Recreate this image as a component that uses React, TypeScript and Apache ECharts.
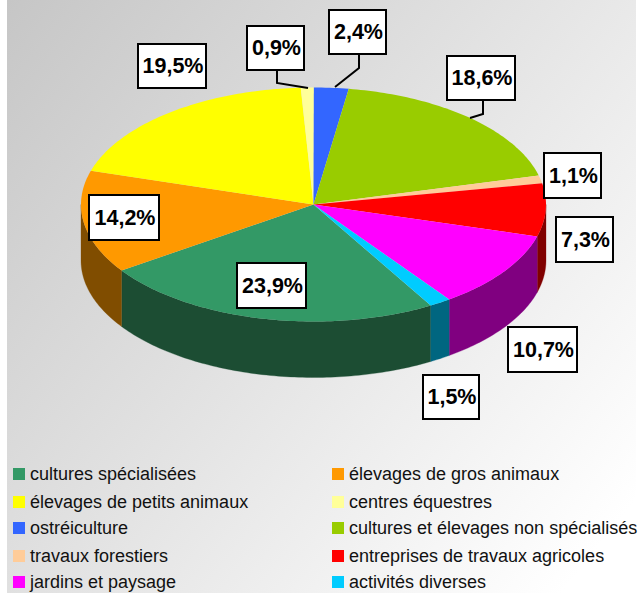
import React, { useEffect, useRef } from "react";
import * as echarts from "echarts";

const categories = [
  "cultures spécialisées",
  "élevages de gros animaux",
  "élevages de petits animaux",
  "centres équestres",
  "ostréiculture",
  "cultures et élevages non spécialisés",
  "travaux forestiers",
  "entreprises de travaux agricoles",
  "jardins et paysage",
  "activités diverses",
];
const values = [23.9, 14.2, 19.5, 0.9, 2.4, 18.6, 1.1, 7.3, 10.7, 1.5];
const colors = ["#339966", "#ff9900", "#ffff00", "#ffff99", "#3366ff", "#99cc00", "#ffcc99", "#ff0000", "#ff00ff", "#00ccff"];
const sideColors = ["#1c4d33", "#804d00", "#808000", "#808050", "#1a3380", "#4d6600", "#80664d", "#800000", "#800080", "#006680"];

// layout of the pie drawn as a tilted disc
const CX = 313.5, CY = 204.5, RX = 232.5, RY = 117, DEPTH = 56, START = 149.7;
// outer box of each label: x0, y0, x1, y1
const boxes = [
  [236, 262, 307, 309], [88, 194, 160, 241], [137, 43, 207, 89], [246, 25, 305, 71], [328, 9, 387, 55],
  [446, 55, 516, 101], [543, 152, 602, 199], [555, 216, 614, 263], [507, 326, 578, 373], [422, 374, 480, 420],
];
const leaders: Record<number, number[][]> = {
  3: [[277, 71], [277, 83], [308, 88]],
  4: [[359, 55], [359, 68], [335, 87]],
  5: [[483, 101], [483, 114], [470, 118]],
};
// legend anchor per item: swatch left, swatch top
const legendPos = [
  [13, 468], [332, 468], [13, 496], [332, 496], [13, 522], [332, 522], [13, 550], [332, 550], [13, 576], [332, 576],
];
const LEGEND_SHIFT = 3;

const total = values.reduce((a, b) => a + b, 0);
const pt = (deg: number, dz: number) => {
  const r = (deg * Math.PI) / 180;
  return [CX + RX * Math.sin(r), CY - RY * Math.cos(r) + dz];
};
const arc = (a0: number, a1: number, dz: number) => {
  const out: number[][] = [];
  const n = Math.max(2, Math.ceil(a1 - a0));
  for (let i = 0; i <= n; i++) out.push(pt(a0 + ((a1 - a0) * i) / n, dz));
  return out;
};

export default function App() {
  const ref = useRef<HTMLDivElement>(null);
  useEffect(() => {
    document.body.style.margin = "0";
    const chart = echarts.init(ref.current!, null, { renderer: "svg" });
    let acc = START;
    const spans = values.map((v) => {
      const a0 = acc;
      acc += (v / total) * 360;
      return [a0, acc];
    });
    const sliceSeries = categories.map((name, i) => ({
      type: "custom",
      name,
      coordinateSystem: "none",
      silent: true,
      z: 3,
      itemStyle: { color: colors[i] },
      data: [values[i]],
      renderItem: () => {
        const [a0, a1] = spans[i];
        const children: any[] = [];
        // the wall of the disc is visible only on its front half (90deg..270deg, and again one turn on)
        for (const shift of [0, 360]) {
          const s0 = Math.max(a0, 90 + shift);
          const s1 = Math.min(a1, 270 + shift);
          if (s1 > s0) {
            children.push({
              type: "polygon",
              z2: 1,
              shape: { points: [...arc(s0, s1, 0), ...arc(s0, s1, DEPTH).reverse()] },
              style: { fill: sideColors[i], stroke: sideColors[i], lineWidth: 0.3 },
            });
          }
        }
        children.push({
          type: "polygon",
          z2: 2,
          shape: { points: [[CX, CY], ...arc(a0, a1, 0)] },
          style: { fill: colors[i] },
        });
        return { type: "group", children };
      },
    }));
    const labelSeries = {
      type: "custom",
      name: "labels",
      coordinateSystem: "none",
      silent: true,
      z: 6,
      data: values,
      renderItem: (_p: any, api: any) => {
        const i = _p.dataIndex;
        const [x0, y0, x1, y1] = boxes[i];
        const text = api.value(0).toFixed(1).replace(".", ",") + "%";
        const children: any[] = [
          {
            type: "rect",
            shape: { x: x0 + 1, y: y0 + 1, width: x1 - x0 - 2, height: y1 - y0 - 2 },
            style: { fill: "#ffffff", stroke: "#000000", lineWidth: 2 },
          },
          {
            type: "text",
            style: {
              x: (x0 + x1) / 2 + 1,
              y: (y0 + y1) / 2,
              text,
              fill: "#000000",
              font: 'bold 21.5px "Liberation Sans"',
              align: "center",
              verticalAlign: "middle",
              textAlign: "center",
              textVerticalAlign: "middle",
            },
          },
        ];
        if (leaders[i]) {
          children.push({
            type: "polyline",
            shape: { points: leaders[i] },
            style: { fill: "none", stroke: "#000000", lineWidth: 2 },
          });
        }
        return { type: "group", children };
      },
    };
    chart.setOption({
      animation: false,
      graphic: [
        {
          type: "rect",
          z: -1,
          silent: true,
          shape: { x: 7, y: 0, width: 629, height: 593 },
          style: {
            fill: new echarts.graphic.LinearGradient(7, 0, 636, 500, [
              { offset: 0, color: "#c6c6c6" },
              { offset: 1, color: "#ffffff" },
            ], true),
          },
        },
      ],
      legend: categories.map((name, i) => ({
        data: [name],
        left: legendPos[i][0],
        top: legendPos[i][1] - LEGEND_SHIFT,
        padding: 0,
        itemWidth: 12,
        itemHeight: 12,
        icon: "rect",
        selectedMode: false,
        textStyle: { color: "#111111", fontSize: 18, fontFamily: "Liberation Sans" },
      })),
      series: [...sliceSeries, labelSeries],
    });
    return () => chart.dispose();
  }, []);
  return <div ref={ref} style={{ width: 642, height: 593 }} />;
}
